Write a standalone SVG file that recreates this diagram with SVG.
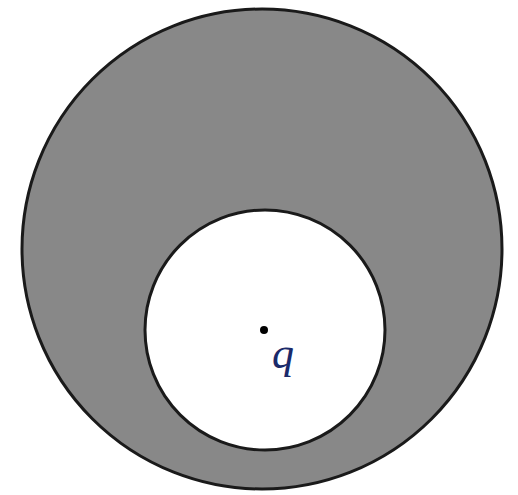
<svg xmlns="http://www.w3.org/2000/svg" width="518" height="495" viewBox="0 0 518 495">
<style>
.c{stroke:#1a1a1a;stroke-width:3}
.lbl{font-family:"Liberation Serif",serif;font-style:italic;font-size:44px;fill:#1a2a6a}
</style>
<rect width="518" height="495" fill="#ffffff"/>
<g id="outer"><circle class="c" cx="262" cy="249" r="240" fill="#888888"/></g>
<g id="inner"><circle class="c" cx="265" cy="330" r="120" fill="#ffffff"/></g>
<g id="point"><circle cx="264" cy="330" r="4" fill="#000000"/><text class="lbl" x="272" y="368">q</text></g>
</svg>
